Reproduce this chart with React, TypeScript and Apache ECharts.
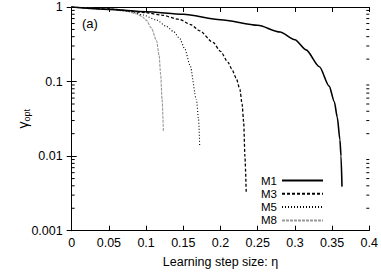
import React, { useEffect, useRef } from "react";
import * as echarts from "echarts";

const FONT = "Liberation Sans, Arial, Helvetica, sans-serif";

const etaM1 = [0, 0.05, 0.1, 0.15, 0.2, 0.25, 0.28, 0.3, 0.315, 0.333, 0.346, 0.353, 0.357, 0.3605, 0.362, 0.3633];
const gammaM1 = [1, 0.93, 0.865, 0.8, 0.676, 0.569, 0.462, 0.363, 0.266, 0.158, 0.087, 0.0537, 0.0331, 0.0166, 0.01, 0.0039];

const etaM3 = [0, 0.05, 0.1, 0.12, 0.145, 0.16, 0.172, 0.19, 0.2, 0.21, 0.215, 0.221, 0.226, 0.229, 0.2312, 0.2328, 0.2346];
const gammaM3 = [1, 0.94, 0.84, 0.78, 0.681, 0.582, 0.479, 0.335, 0.254, 0.182, 0.148, 0.112, 0.0794, 0.0501, 0.0282, 0.01, 0.00316];

const etaM5 = [0, 0.05, 0.078, 0.096, 0.114, 0.127, 0.137, 0.145, 0.152, 0.159, 0.1676, 0.1705, 0.172];
const gammaM5 = [1, 0.93, 0.87, 0.78, 0.67, 0.55, 0.468, 0.38, 0.275, 0.166, 0.0575, 0.0316, 0.0138];

const etaM8 = [0, 0.05, 0.069, 0.087, 0.095, 0.1005, 0.107, 0.114, 0.1175, 0.1195, 0.1215, 0.1232];
const gammaM8 = [1, 0.94, 0.9, 0.813, 0.741, 0.661, 0.525, 0.355, 0.224, 0.126, 0.0575, 0.0214];

const seriesNames = ["M1", "M3", "M5", "M8"];
const xTicks = { min: 0, max: 0.4, interval: 0.05 };
const yRange = { min: 0.001, max: 1 };
const yTickValues = [1, 0.1, 0.01, 0.001];
const yTickLabels = ["1", "0.1", "0.01", "0.001"];
const minorTickValues = [
  0.002, 0.003, 0.004, 0.005, 0.006, 0.007, 0.008, 0.009,
  0.02, 0.03, 0.04, 0.05, 0.06, 0.07, 0.08, 0.09,
  0.2, 0.3, 0.4, 0.5, 0.6, 0.7, 0.8, 0.9,
];

const pairs = (xs: number[], ys: number[]) => xs.map((x, i) => [x, ys[i]]);

export default function App() {
  const ref = useRef<HTMLDivElement>(null);
  useEffect(() => {
    if (!ref.current) return;
    const chart = echarts.init(ref.current, null, { renderer: "svg" });
    const axisLine = { show: true, lineStyle: { color: "#000", width: 1 } };
    const tick = { show: true, inside: true, length: 5, lineStyle: { color: "#000", width: 1 } };
    const lineBase = { type: "line", symbol: "none", showSymbol: false, smooth: 0.25, smoothMonotone: "x" };
    chart.setOption({
      animation: false,
      backgroundColor: "#fff",
      grid: { left: 71.7, right: 11.7, top: 7, bottom: 45.3, containLabel: false },
      xAxis: [
        {
          type: "value",
          min: xTicks.min,
          max: xTicks.max,
          interval: xTicks.interval,
          axisLine,
          axisTick: tick,
          splitLine: { show: false },
          axisLabel: { color: "#000", fontSize: 12.5, fontFamily: FONT, margin: 7, lineHeight: 11, hideOverlap: false },
          name: "Learning step size: η",
          nameLocation: "middle",
          nameGap: 25,
          nameMoveOverlap: false,
          nameTextStyle: { color: "#000", fontSize: 12.5, fontFamily: FONT },
        },
        {
          type: "value",
          position: "top",
          min: xTicks.min,
          max: xTicks.max,
          interval: xTicks.interval,
          axisLine,
          axisTick: tick,
          splitLine: { show: false },
          axisLabel: { show: false },
        },
      ],
      yAxis: [
        {
          type: "log",
          logBase: 10,
          min: yRange.min,
          max: yRange.max,
          axisLine,
          axisTick: tick,
          splitLine: { show: false },
          axisLabel: { show: false },
          name: "{g|γ}{s|opt}",
          nameLocation: "middle",
          nameRotate: 90,
          nameGap: 40,
          nameMoveOverlap: false,
          nameTextStyle: {
            color: "#000",
            fontFamily: FONT,
            rich: {
              g: { fontSize: 14, fontFamily: FONT, color: "#000", lineHeight: 18, verticalAlign: "middle" },
              s: { fontSize: 9, fontFamily: FONT, color: "#000", lineHeight: 18, verticalAlign: "bottom" },
            },
          },
        },
        {
          type: "log",
          logBase: 10,
          position: "right",
          min: yRange.min,
          max: yRange.max,
          axisLine,
          axisTick: tick,
          splitLine: { show: false },
          axisLabel: { show: false },
        },
      ],
      legend: {
        data: seriesNames,
        orient: "vertical",
        right: 57,
        top: 174,
        align: "right",
        itemWidth: 41,
        itemHeight: 10,
        itemGap: 0.3,
        padding: 0,
        itemStyle: { opacity: 0 },
        textStyle: { color: "#000", fontSize: 11.5, fontFamily: FONT, lineHeight: 13 },
      },
      graphic: [
        {
          type: "text",
          left: 82,
          top: 17,
          style: { text: "(a)", fontSize: 13, fontFamily: FONT, fill: "#000" },
        },
      ],
      series: [
        {
          ...lineBase,
          name: "M1",
          data: pairs(etaM1, gammaM1),
          lineStyle: { color: "#000", width: 1.6, type: "solid" },
          itemStyle: { color: "#000" },
          z: 5,
        },
        {
          ...lineBase,
          name: "M3",
          data: pairs(etaM3, gammaM3),
          lineStyle: { color: "#000", width: 1.3, type: [3, 2] },
          itemStyle: { color: "#000" },
          z: 4,
        },
        {
          ...lineBase,
          name: "M5",
          data: pairs(etaM5, gammaM5),
          lineStyle: { color: "#000", width: 1.1, type: [1, 2] },
          itemStyle: { color: "#000" },
          z: 3,
        },
        {
          ...lineBase,
          name: "M8",
          data: pairs(etaM8, gammaM8),
          lineStyle: { color: "#999", width: 1.1, type: [3, 1] },
          itemStyle: { color: "#999" },
          z: 2,
        },
        {
          type: "custom",
          name: "minorTicks",
          silent: true,
          data: minorTickValues.map((v) => [0, v]),
          renderItem: (params: any, api: any) => {
            const v = api.value(1);
            const pl = api.coord([xTicks.min, v]);
            const pr = api.coord([xTicks.max, v]);
            return {
              type: "group",
              children: [
                { type: "line", shape: { x1: pl[0], y1: pl[1], x2: pl[0] + 3, y2: pl[1] }, style: { stroke: "#000", lineWidth: 1 } },
                { type: "line", shape: { x1: pr[0] - 3, y1: pr[1], x2: pr[0], y2: pr[1] }, style: { stroke: "#000", lineWidth: 1 } },
              ],
            };
          },
        },
        {
          type: "custom",
          name: "yLabels",
          silent: true,
          clip: false,
          data: yTickValues.map((v, i) => [0, v, i]),
          renderItem: (params: any, api: any) => {
            const v = api.value(1);
            const idx = api.value(2);
            const p = api.coord([xTicks.min, v]);
            return {
              type: "text",
              x: p[0] - 9,
              y: p[1],
              style: {
                text: yTickLabels[idx],
                fontSize: 12.5,
                fontFamily: FONT,
                fill: "#000",
                align: "right",
                verticalAlign: "middle",
              },
            };
          },
        },
      ],
    });
    return () => chart.dispose();
  }, []);
  return <div ref={ref} style={{ width: 381, height: 276, position: "fixed", left: 0, top: 0 }} />;
}
